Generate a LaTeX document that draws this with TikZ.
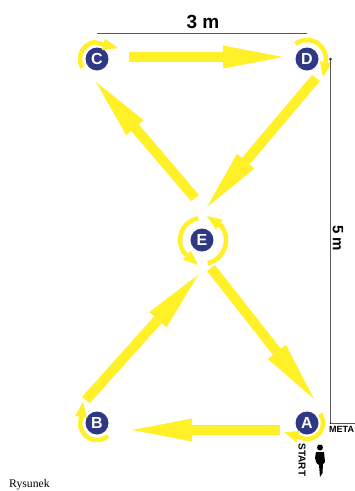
\documentclass[tikz,border=0pt]{standalone}
\usepackage{fontspec}
\setsansfont{Liberation Sans}
\setmainfont{Liberation Serif}
\usepackage{xcolor}
\usetikzlibrary{arrows.meta,positioning,calc}
\definecolor{cone}{RGB}{46,56,132}
\definecolor{lemon}{RGB}{255,240,40}

\begin{document}
\begin{tikzpicture}[
  x=1pt,y=1pt,
  cone/.style={circle,fill=cone,text=white,inner sep=0pt,minimum size=23pt,font=\sffamily\bfseries\fontsize{16}{16}\selectfont},
  bigarrow/.style={draw=lemon,line width=10pt,-{Triangle[length=60pt,width=23pt,line width=0pt,fill=lemon]}},
  turn/.style={draw=lemon,line width=4.5pt,-{Triangle[length=15pt,width=12pt,line width=0pt,fill=lemon]}},
  ruler/.style={draw=black!65,line width=0.7pt},
  dist/.style={font=\sffamily\bfseries\fontsize{19}{19}\selectfont,inner sep=0pt},
  tag/.style={font=\sffamily\bfseries\fontsize{9}{9}\selectfont,inner sep=0pt},
]
  \useasboundingbox (0,0) rectangle (355,-491);
  \node[cone] (c) at (97,-59) {C};
  \node[cone] (d) at (307,-59) {D};
  \node[cone] (e) at (202,-240) {E};
  \node[cone] (a) at (307,-423) {A};
  \node[cone] (b) at (97,-423) {B};
  % big arrows
  \draw[bigarrow] ([shift={(32,2)}]c.center) -- ([shift={(-24,2)}]d.center);
  \draw[bigarrow] ([shift={(9,-19)}]d.center) -- ([shift={(5,33)}]e.center);
  \draw[bigarrow] ([shift={(-7,42)}]e.center) -- ([shift={(-1,-23)}]c.center);
  \draw[bigarrow] ([shift={(9,-28)}]e.center) -- ([shift={(7,24)}]a.center);
  \draw[bigarrow] ([shift={(-11,23)}]b.center) -- ([shift={(-4,-35)}]e.center);
  \draw[bigarrow] ([shift={(-27,-7)}]a.center) -- ([shift={(35,-7)}]b.center);
  % turns round the cones
  \draw[turn] ([shift={(210:17)}]c.center) arc[start angle=210,end angle=100,radius=17] -- ([shift={(21,11)}]c.center);
  \draw[turn] ([shift={(127:19)}]d.center) arc[start angle=127,end angle=-10,radius=19] -- ([shift={(16,-18)}]d.center);
  \draw[turn] ([shift={(100:22)}]e.center) arc[start angle=100,end angle=215,radius=22] -- ([shift={(-4,-25)}]e.center);
  \draw[turn] ([shift={(-76:24)}]e.center) arc[start angle=-76,end angle=35,radius=24] -- ([shift={(5,24)}]e.center);
  \draw[turn] ([shift={(35:16)}]a.center) arc[start angle=35,end angle=-100,radius=16] -- ([shift={(-23,-9)}]a.center);
  \draw[turn] ([shift={(-50:17)}]b.center) arc[start angle=-50,end angle=-175,radius=17] -- ([shift={(-14,21)}]b.center);
  % distances
  \coordinate (metaend) at (355,-423);
  \draw[ruler] ([yshift=26pt]c.center) -- ([yshift=26pt]d.center);
  \draw[ruler] ([xshift=23.5pt]d.center) -- ([xshift=23.5pt]a.center) -- (metaend);
  \fill[black!80] ([xshift=23.5pt]d.center) circle (1.5);
  \fill[black!80] ([xshift=23.5pt]a.center) circle (1);
  \node[dist] (top) at (203,-22) {3 m};
  \node[dist,rotate=-90,font=\sffamily\bfseries\fontsize{15}{15}\selectfont] (side) at (338,-238) {5 m};
  \node[tag,anchor=west] (meta) at (329,-429) {META};
  \node[tag,rotate=-90,font=\sffamily\bfseries\fontsize{10}{10}\selectfont] (start) at (302,-460) {START};
  % runner
  \fill[black] (320,-447.5) circle (3);
  \fill[black] (316,-452) -- (324,-452) -- (325,-462) -- (323,-464) -- (322.5,-473) -- (320,-477) -- (319,-465) -- (316.5,-463) -- (315,-458) -- cycle;
  \node[anchor=base west,inner sep=0pt,font=\fontsize{11.7}{12}\selectfont] (caption) at (9,-487) {Rysunek};
\end{tikzpicture}
\end{document}
